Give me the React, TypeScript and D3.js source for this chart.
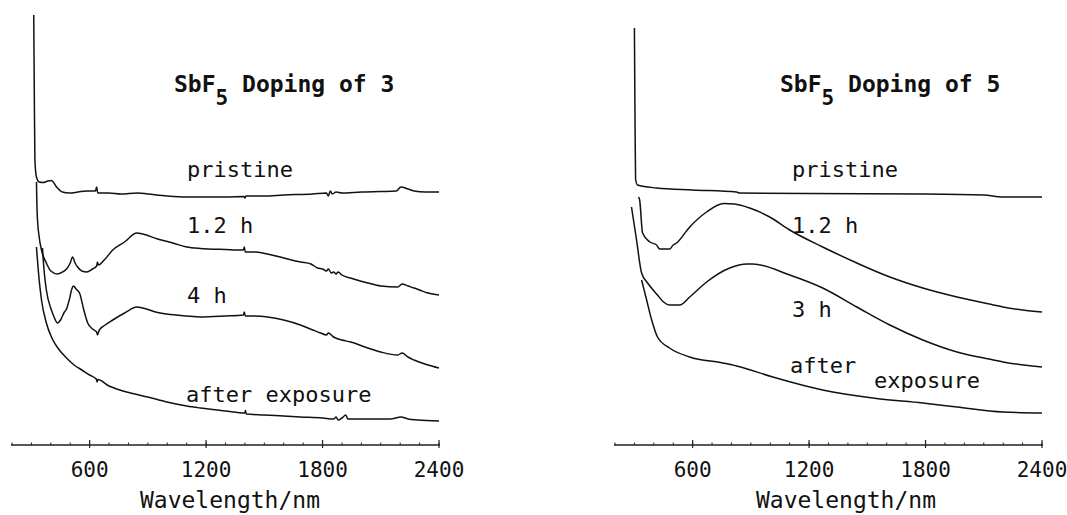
import React from 'react';
import * as d3 from 'd3';

// wavelength (nm), absorbance (arb., offset traces)
const leftPristine: [number, number][] = [
  [312, 4.3], [315, 3.5], [318, 2.85], [326, 2.68], [340, 2.63], [360, 2.625], [385, 2.64], [403, 2.645],
  [430, 2.58], [460, 2.53], [496, 2.52], [540, 2.53], [584, 2.54], [630, 2.54], [636, 2.58], [642, 2.52],
  [700, 2.52], [760, 2.51], [848, 2.52], [900, 2.51], [1000, 2.49], [1100, 2.48], [1170, 2.48], [1300, 2.48],
  [1395, 2.485], [1400, 2.47], [1405, 2.49], [1500, 2.49], [1600, 2.5], [1750, 2.51], [1820, 2.52], [1830, 2.49],
  [1840, 2.54], [1850, 2.51], [1870, 2.53], [1900, 2.52], [2000, 2.53], [2100, 2.535], [2180, 2.54], [2204, 2.58],
  [2240, 2.56], [2271, 2.54], [2330, 2.53], [2400, 2.53],
];
const left12h: [number, number][] = [
  [326, 2.63], [330, 2.3], [340, 2.08], [352, 1.95], [377, 1.82], [400, 1.74], [434, 1.71], [460, 1.73],
  [481, 1.76], [500, 1.82], [512, 1.88], [525, 1.82], [538, 1.78], [560, 1.74], [584, 1.73], [615, 1.76],
  [636, 1.79], [640, 1.83], [645, 1.8], [680, 1.86], [719, 1.95], [780, 2.03], [843, 2.12], [874, 2.11],
  [950, 2.06], [1029, 2.02], [1100, 1.98], [1170, 1.965], [1300, 1.955], [1392, 1.95], [1397, 1.98], [1402, 1.93],
  [1450, 1.93], [1516, 1.91], [1600, 1.87], [1686, 1.83], [1740, 1.81], [1774, 1.77], [1800, 1.76], [1820, 1.74],
  [1830, 1.76], [1845, 1.72], [1857, 1.73], [1870, 1.71], [1880, 1.73], [1900, 1.7], [1960, 1.66], [2033, 1.62],
  [2100, 1.59], [2188, 1.58], [2210, 1.61], [2240, 1.59], [2271, 1.57], [2300, 1.55], [2343, 1.52], [2400, 1.5],
];
const left4h: [number, number][] = [
  [357, 1.97], [365, 1.75], [377, 1.55], [403, 1.35], [419, 1.27], [434, 1.22], [450, 1.25], [470, 1.33],
  [481, 1.36], [495, 1.45], [510, 1.57], [517, 1.59], [530, 1.56], [548, 1.52], [570, 1.35], [590, 1.22],
  [615, 1.16], [636, 1.13], [640, 1.1], [650, 1.15], [680, 1.2], [719, 1.25], [780, 1.32], [843, 1.38],
  [874, 1.37], [940, 1.33], [998, 1.31], [1100, 1.29], [1170, 1.28], [1300, 1.29], [1392, 1.3], [1397, 1.33],
  [1402, 1.29], [1450, 1.29], [1516, 1.28], [1600, 1.25], [1686, 1.2], [1750, 1.15], [1790, 1.12], [1820, 1.1],
  [1830, 1.12], [1857, 1.08], [1880, 1.06], [1900, 1.05], [1945, 1.03], [2033, 0.97], [2100, 0.93], [2188, 0.9],
  [2210, 0.92], [2240, 0.88], [2271, 0.85], [2343, 0.8], [2400, 0.77],
];
const leftAfter: [number, number][] = [
  [326, 1.98], [340, 1.65], [352, 1.45], [377, 1.22], [408, 1.06], [440, 0.96], [481, 0.87], [520, 0.8],
  [564, 0.745], [600, 0.7], [634, 0.66], [638, 0.63], [642, 0.655], [700, 0.59], [739, 0.56], [822, 0.515],
  [900, 0.48], [998, 0.43], [1100, 0.39], [1170, 0.37], [1300, 0.34], [1400, 0.32], [1403, 0.345], [1407, 0.31],
  [1500, 0.3], [1686, 0.28], [1800, 0.27], [1857, 0.26], [1870, 0.28], [1880, 0.25], [1900, 0.27], [1920, 0.3],
  [1930, 0.26], [2033, 0.26], [2150, 0.26], [2204, 0.28], [2240, 0.26], [2290, 0.25], [2400, 0.24],
];

const rightPristine: [number, number][] = [
  [300, 4.17], [303, 3.3], [306, 2.66], [316, 2.6], [414, 2.57], [600, 2.55], [826, 2.53], [841, 2.52],
  [1200, 2.515], [1785, 2.51], [2100, 2.5], [2198, 2.48], [2300, 2.48], [2400, 2.48],
];
const right12h: [number, number][] = [
  [321, 2.48], [327, 2.45], [342, 2.12], [380, 2.03], [414, 2.0], [430, 1.96], [481, 1.96], [500, 2.0],
  [517, 2.02], [585, 2.18], [672, 2.33], [760, 2.415], [815, 2.41], [894, 2.37], [997, 2.28], [1100, 2.15],
  [1270, 1.98], [1446, 1.82], [1616, 1.68], [1786, 1.57], [1962, 1.48], [2150, 1.4], [2199, 1.38], [2300, 1.35],
  [2400, 1.33],
];
const right3h: [number, number][] = [
  [285, 2.38], [311, 2.05], [337, 1.72], [368, 1.62], [419, 1.5], [450, 1.43], [481, 1.4], [533, 1.4],
  [585, 1.48], [672, 1.63], [791, 1.77], [880, 1.81], [909, 1.81], [1100, 1.7], [1270, 1.57], [1446, 1.38],
  [1616, 1.2], [1786, 1.05], [1962, 0.93], [2150, 0.85], [2199, 0.83], [2400, 0.78],
];
const rightAfter: [number, number][] = [
  [337, 1.65], [363, 1.45], [389, 1.25], [419, 1.08], [481, 0.97], [585, 0.88], [755, 0.82], [827, 0.79],
  [1013, 0.68], [1270, 0.55], [1528, 0.47], [1786, 0.42], [1962, 0.38], [2199, 0.33], [2400, 0.32],
];

const majorTicks = [600, 1200, 1800, 2400];
const minorTicks = d3.range(200, 2401, 100);

const FONT = '"DejaVu Sans Mono", "Liberation Mono", monospace';

const y = d3.scaleLinear().domain([0, 4.4]).range([445, 5]);

type Label = { text: string; x: number; y: number };

const Panel = ({ x0, x1, series, title, labels, axisLabelX }: {
  x0: number; x1: number; series: [number, number][][]; title: { n: string; x: number };
  labels: Label[]; axisLabelX: number;
}) => {
  const x = d3.scaleLinear().domain([200, 2400]).range([x0, x1]);
  const line = d3.line<[number, number]>()
    .x((d) => x(d[0]))
    .y((d) => y(d[1]))
    .curve(d3.curveMonotoneX);
  const base = y(0);
  return (
    <g>
      {series.map((s, i) => (
        <path key={i} d={line(s) || ''} fill="none" stroke="#111" strokeWidth={1.5} />
      ))}
      <line x1={x0 - 1} x2={x1 + 1} y1={base} y2={base} stroke="#222" strokeWidth={1.3} />
      {minorTicks.map((t) => (
        <line key={t} x1={x(t)} x2={x(t)} y1={base} y2={base - 2.5} stroke="#222" strokeWidth={1} />
      ))}
      {majorTicks.map((t) => (
        <g key={t}>
          <line x1={x(t)} x2={x(t)} y1={base - 5} y2={base + 3} stroke="#222" strokeWidth={1.2} />
          <text x={x(t)} y={477} textAnchor="middle" fontFamily={FONT} fontSize={21} fill="#111">{t}</text>
        </g>
      ))}
      <text x={axisLabelX} y={508} textAnchor="middle" fontFamily={FONT} fontSize={23} fill="#111">
        Wavelength/nm
      </text>
      <text x={title.x} y={92} fontFamily={FONT} fontSize={23} fontWeight="bold" fill="#111">
        SbF<tspan dy={13} fontSize={21}>5</tspan><tspan dy={-13}> Doping of {title.n}</tspan>
      </text>
      {labels.map((l) => (
        <text key={l.text + l.x} x={l.x} y={l.y} fontFamily={FONT} fontSize={22} fill="#111">{l.text}</text>
      ))}
    </g>
  );
};

export default function App() {
  return (
    <div style={{ position: 'absolute', left: 0, top: 0 }}>
      <svg width={1067} height={515} style={{ display: 'block', background: '#fff' }}>
        <Panel
          x0={12}
          x1={439}
          axisLabelX={230}
          series={[leftPristine, left12h, left4h, leftAfter]}
          title={{ n: '3', x: 174 }}
          labels={[
            { text: 'pristine', x: 187, y: 177 },
            { text: '1.2 h', x: 187, y: 233 },
            { text: '4 h', x: 187, y: 303 },
            { text: 'after exposure', x: 186, y: 402 },
          ]}
        />
        <Panel
          x0={615}
          x1={1042}
          axisLabelX={846}
          series={[rightPristine, right12h, right3h, rightAfter]}
          title={{ n: '5', x: 780 }}
          labels={[
            { text: 'pristine', x: 792, y: 177 },
            { text: '1.2 h', x: 792, y: 233 },
            { text: '3 h', x: 792, y: 317 },
            { text: 'after', x: 790, y: 373 },
            { text: 'exposure', x: 874, y: 388 },
          ]}
        />
      </svg>
    </div>
  );
}
